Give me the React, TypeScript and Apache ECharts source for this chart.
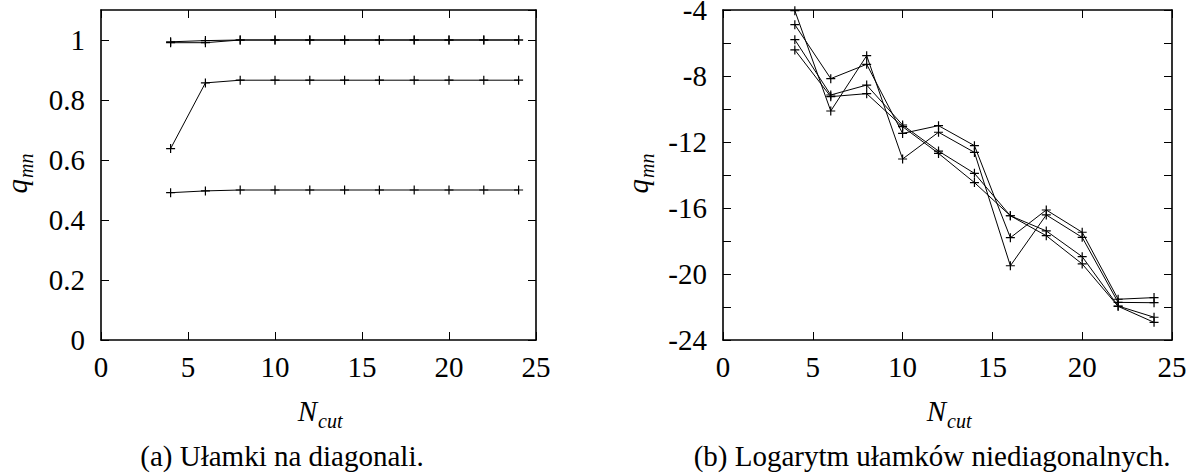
import React, { useEffect, useRef } from "react";
import * as echarts from "echarts";

// N_cut values (x axis)
const nCut = [4, 6, 8, 10, 12, 14, 16, 18, 20, 22, 24];

// (a) diagonal fractions
const diag1 = [0.991, 0.991, 1, 1, 1, 1, 1, 1, 1, 1, 1];
const diag2 = [0.994, 0.998, 1, 1, 1, 1, 1, 1, 1, 1, 1];
const diag3 = [0.638, 0.857, 0.866, 0.866, 0.866, 0.866, 0.866, 0.866, 0.866, 0.866, 0.866];
const diag4 = [0.491, 0.497, 0.5, 0.5, 0.5, 0.5, 0.5, 0.5, 0.5, 0.5, 0.5];

// (b) log of off-diagonal fractions
const off1 = [-4.04, -10.12, -6.77, -13.03, -11.41, -12.63, -19.5, -16.42, -17.78, -21.72, -21.74];
const off2 = [-4.89, -8.16, -7.29, -11.48, -11.01, -12.22, -17.8, -16.12, -17.47, -21.53, -21.43];
const off3 = [-5.8, -9.15, -8.55, -10.97, -12.55, -13.9, -16.47, -17.39, -18.95, -21.94, -22.62];
const off4 = [-6.42, -9.25, -9.07, -11.07, -12.69, -14.46, -16.47, -17.68, -19.39, -21.96, -22.93];

const xTicks = { min: 0, max: 25, interval: 5 };
const leftY = { min: 0, max: 1.1, interval: 0.2 };
const rightY = { min: -24, max: -4, interval: 2, labelStep: 4 };

const captionA = "(a) Ułamki na diagonali.";
const captionB = "(b) Logarytm ułamków niediagonalnych.";

const FONT = "Liberation Serif";
const PLUS = "path://M5,0 L5,10 M0,5 L10,5";

function makeSeries(values: number[], xi: number, yi: number) {
  return {
    type: "line",
    xAxisIndex: xi,
    yAxisIndex: yi,
    data: nCut.map((x, i) => [x, values[i]]),
    symbol: PLUS,
    symbolSize: 9,
    showSymbol: true,
    lineStyle: { color: "#000", width: 1 },
    itemStyle: { color: "#000", borderColor: "#000", borderWidth: 1.2 },
    emphasis: { disabled: true },
    z: 3,
  };
}

function xAxes(gridIndex: number) {
  const base = {
    type: "value",
    gridIndex,
    min: xTicks.min,
    max: xTicks.max,
    interval: xTicks.interval,
    splitLine: { show: false },
    axisLine: { show: true, onZero: false, lineStyle: { color: "#000", width: 1.6 } },
    axisTick: { show: true, inside: true, length: 8, lineStyle: { color: "#000", width: 1 } },
  };
  return [
    {
      ...base,
      position: "bottom",
      axisLabel: { show: true, color: "#000", fontFamily: FONT, fontSize: 29, margin: 12 },
    },
    { ...base, position: "top", axisLabel: { show: false } },
  ];
}

function yAxes(
  gridIndex: number,
  min: number,
  max: number,
  interval: number,
  showMax: boolean,
  formatter: (v: number) => string
) {
  const base = {
    type: "value",
    gridIndex,
    min,
    max,
    interval,
    splitLine: { show: false },
    axisLine: { show: true, onZero: false, lineStyle: { color: "#000", width: 1.6 } },
    axisTick: { show: true, inside: true, length: 8, lineStyle: { color: "#000", width: 1 } },
  };
  return [
    {
      ...base,
      position: "left",
      axisLabel: {
        show: true,
        color: "#000",
        fontFamily: FONT,
        fontSize: 29,
        margin: 16,
        showMaxLabel: showMax,
        formatter,
      },
    },
    { ...base, position: "right", axisLabel: { show: false } },
  ];
}

function ncutLabel(cx: number) {
  return [
    {
      type: "text",
      x: cx - 2,
      y: 411,
      style: { text: "N", font: `italic 29px ${FONT}`, fill: "#000", textAlign: "right", textVerticalAlign: "middle" },
    },
    {
      type: "text",
      x: cx - 1,
      y: 421,
      style: { text: "cut", font: `italic 20px ${FONT}`, fill: "#000", textAlign: "left", textVerticalAlign: "middle" },
    },
  ];
}

function qLabel(gx: number, gy: number) {
  return {
    type: "group",
    x: gx,
    y: gy,
    rotation: Math.PI / 2,
    children: [
      {
        type: "text",
        x: 0,
        y: 0,
        style: { text: "q", font: `italic 29px ${FONT}`, fill: "#000", textAlign: "right", textVerticalAlign: "middle" },
      },
      {
        type: "text",
        x: 1,
        y: 9,
        style: { text: "mn", font: `italic 20px ${FONT}`, fill: "#000", textAlign: "left", textVerticalAlign: "middle" },
      },
    ],
  };
}

export default function App() {
  const ref = useRef<HTMLDivElement>(null);
  useEffect(() => {
    document.body.style.margin = "0";
    if (!ref.current) return;
    const chart = echarts.init(ref.current, null, { renderer: "svg" });
    const option: any = {
      animation: false,
      backgroundColor: "#fff",
      textStyle: { fontFamily: FONT },
      grid: [
        { left: 101, right: 665, top: 10, bottom: 136, outerBoundsMode: "none" },
        { left: 723, right: 29, top: 10, bottom: 136, outerBoundsMode: "none" },
      ],
      xAxis: [...xAxes(0), ...xAxes(1)],
      yAxis: [
        ...yAxes(0, leftY.min, leftY.max, leftY.interval, false, (v: number) =>
          Math.abs(v * 5 - Math.round(v * 5)) < 1e-6 ? String(Math.round(v * 10) / 10) : ""
        ),
        ...yAxes(1, rightY.min, rightY.max, rightY.interval, true, (v: number) =>
          Math.round(v) % rightY.labelStep === 0 ? String(Math.round(v)) : ""
        ),
      ],
      series: [
        makeSeries(diag1, 0, 0),
        makeSeries(diag2, 0, 0),
        makeSeries(diag3, 0, 0),
        makeSeries(diag4, 0, 0),
        makeSeries(off1, 2, 2),
        makeSeries(off2, 2, 2),
        makeSeries(off3, 2, 2),
        makeSeries(off4, 2, 2),
      ],
      graphic: [
        ...ncutLabel(319),
        ...ncutLabel(948),
        qLabel(17, 179),
        qLabel(638, 179),
        {
          type: "text",
          x: 282,
          y: 456,
          style: { text: captionA, font: `29px ${FONT}`, fill: "#000", textAlign: "center", textVerticalAlign: "middle" },
        },
        {
          type: "text",
          x: 932,
          y: 456,
          style: { text: captionB, font: `29px ${FONT}`, fill: "#000", textAlign: "center", textVerticalAlign: "middle" },
        },
      ],
    };
    chart.setOption(option);
    return () => chart.dispose();
  }, []);
  return (
    <div
      ref={ref}
      style={{ position: "absolute", left: 0, top: 0, width: 1201, height: 476 }}
    />
  );
}
